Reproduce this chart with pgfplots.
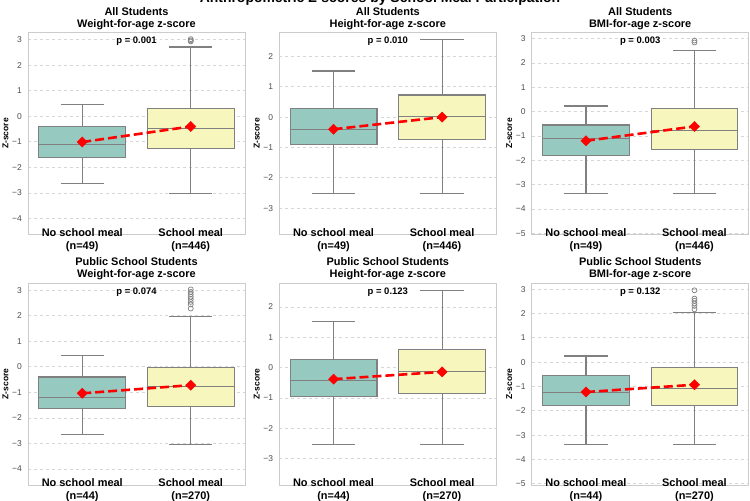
\documentclass[border=0pt]{standalone}
\usepackage{fontspec}
\setmainfont{Liberation Sans}
\usepackage{pgfplots}
\pgfplotsset{compat=1.18}
\usepgfplotslibrary{statistics}

\definecolor{nomeal}{HTML}{96CAC1}
\definecolor{meal}{HTML}{F6F6BD}
\definecolor{boxgray}{HTML}{808080}
\definecolor{framegray}{HTML}{CCCCCC}
\definecolor{gridgray}{HTML}{D6D6D6}
\definecolor{tickgray}{HTML}{4D4D4D}
\definecolor{meanred}{HTML}{FF0000}

\tikzset{ptext/.style={font=\fontsize{9.5}{11}\selectfont\bfseries, anchor=center}}

\pgfplotsset{
  panel/.style={
    scale only axis, width=217bp, height=202bp, anchor=south west,
    xmin=-0.5, xmax=1.5, xtick={0,1},
    axis line style={draw=framegray, line width=0.8bp},
    tick style={draw=none}, major tick length=0pt,
    ymajorgrids, grid style={dashed, draw=gridgray, line width=0.6bp},
    boxplot/draw direction=y,
    xticklabel style={font=\fontsize{11}{13}\selectfont\bfseries, align=center,
      anchor=north, inner sep=0pt, yshift=6.5bp},
    yticklabel style={font=\fontsize{8.5}{10}\selectfont, text=tickgray,
      anchor=east, inner sep=0pt, xshift=-6bp},
    every axis y label/.style={at={([xshift=-22.5bp]rel axis cs:0,0.5)}, rotate=90,
      anchor=center, font=\fontsize{8.5}{10}\selectfont\bfseries},
    ylabel={Z-score},
    every axis title/.style={at={(rel axis cs:0.5,1)}, anchor=south, inner sep=0pt,
      yshift=2.5bp, align=center, font=\fontsize{11}{12.3}\selectfont\bfseries},
  },
  waz/.style={ymin=-4.63, ymax=3.28, ytick={-4,-3,-2,-1,0,1,2,3},
    yticklabels={−4,−3,−2,−1,0,1,2,3}},
  haz/.style={ymin=-3.87, ymax=2.79, ytick={-3,-2,-1,0,1,2},
    yticklabels={−3,−2,−1,0,1,2}},
  baz/.style={ymin=-5.05, ymax=3.25, ytick={-5,-4,-3,-2,-1,0,1,2,3},
    yticklabels={−5,−4,−3,−2,−1,0,1,2,3}},
  boxstyle/.style={draw=boxgray, line width=1.1bp, solid,
    mark=o, mark size=2.5bp, mark options={draw=boxgray, fill=white, line width=0.7bp}},
  meanline/.style={meanred, line width=2.6bp, dash pattern=on 9bp off 4bp,
    mark=square*, mark size=3.6bp,
    mark options={solid, rotate=45, fill=meanred, draw=meanred, line width=0.4bp}},
}

\begin{document}
\begin{tikzpicture}

\node[anchor=base, font=\fontsize{14}{16}\selectfont\bfseries]
  at (380bp,498bp) {Anthropometric Z-scores by School Meal Participation};

% ---------- All students: weight-for-age ----------
\begin{axis}[panel, waz, at={(28bp,266.5bp)},
  title={All Students\\Weight-for-age z-score},
  xticklabels={{No school meal\\(n=49)},{School meal\\(n=446)}}]
\addplot[boxstyle, boxplot/every box/.append style={fill=nomeal},
  boxplot prepared={draw position=0, lower whisker=-2.64, lower quartile=-1.61,
    median=-1.10, upper quartile=-0.40, upper whisker=0.47,
    box extend=0.8, whisker extend=0.4}] coordinates {};
\addplot[boxstyle, boxplot/every box/.append style={fill=meal},
  boxplot prepared={draw position=1, lower whisker=-3.03, lower quartile=-1.25,
    median=-0.47, upper quartile=0.32, upper whisker=2.71,
    box extend=0.8, whisker extend=0.4}]
  table[row sep=\\, y index=0] {z\\ 3.02\\ 2.97\\ 2.93\\};
\addplot[meanline] coordinates {(0,-1.01) (1,-0.40)};
\node[ptext] at (rel axis cs:0.5,0.957) {p = 0.001};
\end{axis}

% ---------- All students: height-for-age ----------
\begin{axis}[panel, haz, at={(279.3bp,266.5bp)},
  title={All Students\\Height-for-age z-score},
  xticklabels={{No school meal\\(n=49)},{School meal\\(n=446)}}]
\addplot[boxstyle, boxplot/every box/.append style={fill=nomeal},
  boxplot prepared={draw position=0, lower whisker=-2.52, lower quartile=-0.90,
    median=-0.42, upper quartile=0.27, upper whisker=1.52,
    box extend=0.8, whisker extend=0.4}] coordinates {};
\addplot[boxstyle, boxplot/every box/.append style={fill=meal},
  boxplot prepared={draw position=1, lower whisker=-2.52, lower quartile=-0.73,
    median=0.03, upper quartile=0.73, upper whisker=2.57,
    box extend=0.8, whisker extend=0.4}] coordinates {};
\addplot[meanline] coordinates {(0,-0.40) (1,0.00)};
\node[ptext] at (rel axis cs:0.5,0.957) {p = 0.010};
\end{axis}

% ---------- All students: BMI-for-age ----------
\begin{axis}[panel, baz, at={(531.7bp,266.5bp)},
  title={All Students\\BMI-for-age z-score},
  xticklabels={{No school meal\\(n=49)},{School meal\\(n=446)}}]
\addplot[boxstyle, boxplot/every box/.append style={fill=nomeal},
  boxplot prepared={draw position=0, lower whisker=-3.36, lower quartile=-1.79,
    median=-1.12, upper quartile=-0.55, upper whisker=0.23,
    box extend=0.8, whisker extend=0.4}] coordinates {};
\addplot[boxstyle, boxplot/every box/.append style={fill=meal},
  boxplot prepared={draw position=1, lower whisker=-3.36, lower quartile=-1.54,
    median=-0.77, upper quartile=0.14, upper whisker=2.51,
    box extend=0.8, whisker extend=0.4}]
  table[row sep=\\, y index=0] {z\\ 2.92\\ 2.84\\};
\addplot[meanline] coordinates {(0,-1.20) (1,-0.61)};
\node[ptext] at (rel axis cs:0.5,0.957) {p = 0.003};
\end{axis}

% ---------- Public school students: weight-for-age ----------
\begin{axis}[panel, waz, at={(28bp,16bp)},
  title={Public School Students\\Weight-for-age z-score},
  xticklabels={{No school meal\\(n=44)},{School meal\\(n=270)}}]
\addplot[boxstyle, boxplot/every box/.append style={fill=nomeal},
  boxplot prepared={draw position=0, lower whisker=-2.65, lower quartile=-1.63,
    median=-1.19, upper quartile=-0.40, upper whisker=0.44,
    box extend=0.8, whisker extend=0.4}] coordinates {};
\addplot[boxstyle, boxplot/every box/.append style={fill=meal},
  boxplot prepared={draw position=1, lower whisker=-3.04, lower quartile=-1.55,
    median=-0.78, upper quartile=-0.04, upper whisker=1.96,
    box extend=0.8, whisker extend=0.4}]
  table[row sep=\\, y index=0] {z\\ 3.03\\ 2.93\\ 2.84\\ 2.74\\ 2.65\\ 2.54\\ 2.44\\ 2.28\\};
\addplot[meanline] coordinates {(0,-1.04) (1,-0.72)};
\node[ptext] at (rel axis cs:0.5,0.957) {p = 0.074};
\end{axis}

% ---------- Public school students: height-for-age ----------
\begin{axis}[panel, haz, at={(279.3bp,16bp)},
  title={Public School Students\\Height-for-age z-score},
  xticklabels={{No school meal\\(n=44)},{School meal\\(n=270)}}]
\addplot[boxstyle, boxplot/every box/.append style={fill=nomeal},
  boxplot prepared={draw position=0, lower whisker=-2.54, lower quartile=-0.95,
    median=-0.43, upper quartile=0.26, upper whisker=1.52,
    box extend=0.8, whisker extend=0.4}] coordinates {};
\addplot[boxstyle, boxplot/every box/.append style={fill=meal},
  boxplot prepared={draw position=1, lower whisker=-2.54, lower quartile=-0.84,
    median=-0.13, upper quartile=0.59, upper whisker=2.54,
    box extend=0.8, whisker extend=0.4}] coordinates {};
\addplot[meanline] coordinates {(0,-0.38) (1,-0.14)};
\node[ptext] at (rel axis cs:0.5,0.957) {p = 0.123};
\end{axis}

% ---------- Public school students: BMI-for-age ----------
\begin{axis}[panel, baz, at={(531.7bp,16bp)},
  title={Public School Students\\BMI-for-age z-score},
  xticklabels={{No school meal\\(n=44)},{School meal\\(n=270)}}]
\addplot[boxstyle, boxplot/every box/.append style={fill=nomeal},
  boxplot prepared={draw position=0, lower whisker=-3.39, lower quartile=-1.79,
    median=-1.25, upper quartile=-0.54, upper whisker=0.25,
    box extend=0.8, whisker extend=0.4}] coordinates {};
\addplot[boxstyle, boxplot/every box/.append style={fill=meal},
  boxplot prepared={draw position=1, lower whisker=-3.39, lower quartile=-1.80,
    median=-1.07, upper quartile=-0.24, upper whisker=2.05,
    box extend=0.8, whisker extend=0.4}]
  table[row sep=\\, y index=0] {z\\ 2.95\\ 2.61\\ 2.52\\ 2.41\\ 2.31\\ 2.17\\};
\addplot[meanline] coordinates {(0,-1.23) (1,-0.93)};
\node[ptext] at (rel axis cs:0.5,0.957) {p = 0.132};
\end{axis}

\pgfresetboundingbox
\useasboundingbox (0,0) rectangle (750bp,501bp);
\end{tikzpicture}
\end{document}
